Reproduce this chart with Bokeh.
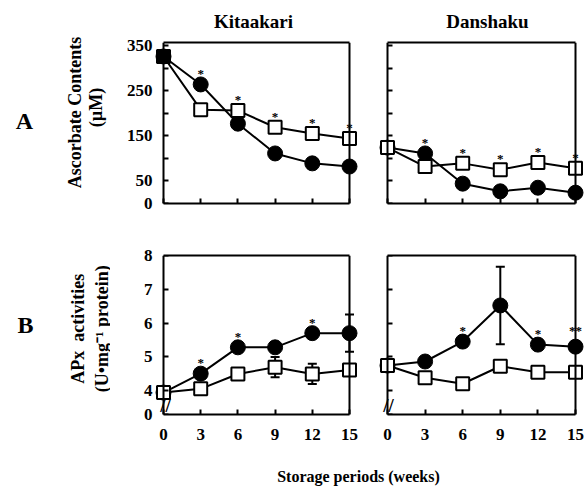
import math
from bokeh.plotting import figure
from bokeh.models import Range1d, FixedTicker, Label, ColumnDataSource, Whisker, TeeHead, LinearAxis
from bokeh.layouts import column, row
from bokeh.embed import file_html
from bokeh.resources import INLINE
from bokeh.core.properties import value

# ---------------- data ----------------
weeks = [0, 3, 6, 9, 12, 15]
x_ticks = [0, 3, 6, 9, 12, 15]
x_tick_labels = ["0", "3", "6", "9", "12", "15"]

# Panel A: ascorbate contents (uM); circles = filled series, squares = open series
asc_kit_circle = [326, 264, 177, 111, 89, 82]
asc_kit_square = [326, 208, 206, 169, 155, 144]
asc_kit_sig = ["", "*", "*", "*", "*", "*"]
asc_dan_circle = [124, 111, 44, 27, 35, 24]
asc_dan_square = [124, 82, 89, 75, 91, 78]
asc_dan_sig = ["", "*", "*", "*", "*", "*"]
asc_ticks = [0, 50, 100, 150, 200, 250, 300, 350]
asc_tick_labels = ["0", "50", "", "150", "", "250", "", "350"]

# Panel B: APx activities (U mg-1 protein)
apx_kit_circle = [3.94, 4.5, 5.28, 5.28, 5.7, 5.7]
apx_kit_circle_err = [0, 0, 0, 0, 0, 0.55]
apx_kit_square = [3.94, 4.05, 4.49, 4.69, 4.49, 4.61]
apx_kit_square_err = [0, 0, 0, 0.3, 0.3, 0.1]
apx_kit_sig = ["", "*", "*", "", "*", ""]
apx_dan_circle = [4.74, 4.86, 5.45, 6.52, 5.36, 5.3]
apx_dan_circle_err = [0, 0, 0, 1.15, 0, 0.15]
apx_dan_square = [4.74, 4.38, 4.2, 4.72, 4.54, 4.54]
apx_dan_square_err = [0, 0.15, 0.15, 0, 0, 0]
apx_dan_sig = ["", "", "*", "", "*", "**"]
apx_ticks = [3.29, 4, 5, 6, 7, 8]          # lowest tick sits below the axis break
apx_tick_labels = ["0", "4", "5", "6", "7", "8"]

FONT = "Liberation Serif"
X0, X1 = 0, 15
PAD_PX = 9


def base_axis(ax):
    ax.axis_line_width = 2
    ax.axis_line_color = "black"
    ax.major_tick_line_width = 2
    ax.major_tick_line_color = "black"
    ax.minor_tick_line_color = None
    ax.major_label_text_font = FONT
    ax.major_label_text_font_style = "bold"
    ax.major_label_text_font_size = "17px"
    ax.major_label_text_color = "black"


def text_fig(w, h):
    f = figure(width=w, height=h, output_backend="svg", toolbar_location=None,
               x_range=Range1d(0, w), y_range=Range1d(0, h),
               min_border_left=0, min_border_right=0, min_border_top=0, min_border_bottom=0)
    f.axis.visible = False
    f.grid.visible = False
    f.outline_line_color = None
    return f


def panel(geom, y_lo, y_hi, yticks, ylabels, show_y, show_x,
          circ, circ_err, sq, sq_err, sig, first_square_fill="white"):
    frame_w = geom["w"] - geom["bl"] - geom["br"]
    pad = (X1 - X0) * PAD_PX / (frame_w - 2 * PAD_PX)
    p = figure(width=geom["w"], height=geom["h"], output_backend="svg",
               toolbar_location=None, x_range=Range1d(X0 - pad, X1 + pad),
               y_range=Range1d(y_lo, y_hi),
               min_border_left=geom["bl"], min_border_right=geom["br"],
               min_border_top=geom["bt"], min_border_bottom=geom["bb"])
    p.grid.visible = False
    p.outline_line_color = None
    p.background_fill_color = "white"
    p.border_fill_color = "white"

    # bottom axis: line from 0 to 15, inward ticks, labels
    xa = p.xaxis[0]
    base_axis(xa)
    xa.bounds = (X0, X1)
    xa.major_tick_in = 5
    xa.major_tick_out = 0
    xa.ticker = FixedTicker(ticks=x_ticks)
    xa.major_label_overrides = {t: l for t, l in zip(x_ticks, x_tick_labels)}
    xa.major_label_standoff = 14
    if not show_x:
        xa.major_label_text_color = None

    # left axis: tick labels only
    ya = p.yaxis[0]
    if show_y:
        base_axis(ya)
        ya.axis_line_color = None
        ya.major_tick_line_color = None
        ya.major_tick_in = 0
        ya.major_tick_out = 0
        ya.ticker = FixedTicker(ticks=yticks)
        ya.major_label_overrides = {t: l for t, l in zip(yticks, ylabels)}
        ya.major_label_standoff = 2
    else:
        ya.visible = False

    # vertical line at x = 0 with inward ticks (no labels)
    ya0 = LinearAxis(ticker=FixedTicker(ticks=yticks), fixed_location=X0)
    base_axis(ya0)
    ya0.major_tick_in = 0
    ya0.major_tick_out = 5
    ya0.major_label_standoff = 0
    ya0.major_label_overrides = {t: "" for t in yticks}
    ya0.major_label_text_color = None
    p.add_layout(ya0, "right")

    # closing box sides
    yr = LinearAxis(ticker=FixedTicker(ticks=[]), fixed_location=X1)
    base_axis(yr)
    yr.major_tick_in = 0
    yr.major_tick_out = 0
    yr.major_label_standoff = 0
    p.add_layout(yr, "right")
    top = LinearAxis(ticker=FixedTicker(ticks=[]), bounds=(X0, X1))
    base_axis(top)
    top.major_tick_in = 0
    top.major_tick_out = 0
    top.major_label_standoff = 0
    p.add_layout(top, "above")

    # error bars
    for vals, errs in ((circ, circ_err), (sq, sq_err)):
        xs = [w for w, e in zip(weeks, errs) if e > 0]
        if xs:
            src = ColumnDataSource(dict(
                x=xs,
                upper=[v + e for v, e in zip(vals, errs) if e > 0],
                lower=[v - e for v, e in zip(vals, errs) if e > 0]))
            wk = Whisker(source=src, base="x", upper="upper", lower="lower",
                         dimension="height", line_width=2, line_color="black",
                         upper_head=TeeHead(size=9, line_width=2),
                         lower_head=TeeHead(size=9, line_width=2))
            p.add_layout(wk)

    p.line(weeks, circ, line_color="black", line_width=2)
    p.line(weeks, sq, line_color="black", line_width=2)
    p.scatter(weeks, circ, marker="circle", size=15, fill_color="black", line_color="black")
    sq_fill = [first_square_fill] + ["white"] * (len(weeks) - 1)
    p.scatter(weeks, sq, marker="square", size=13, fill_color=sq_fill,
              line_color="black", line_width=2)

    # significance marks above the highest marker / error bar
    tops = [max(c + ce, s + se) for c, ce, s, se in zip(circ, circ_err, sq, sq_err)]
    sx = [w for w, s in zip(weeks, sig) if s]
    sy = [t for t, s in zip(tops, sig) if s]
    st = [s for s in sig if s]
    p.text(sx, sy, text=st, y_offset=-11, text_align="center", text_baseline="middle",
           text_font=value(FONT), text_font_style="bold", text_font_size="13px",
           text_color="black")
    return p


def put(p, geom, text, wx, wy, size, angle=0.0):
    # text glyph in a text-only figure whose data units are pixels
    p.text([wx - geom["x0"]], [geom["h"] - (wy - geom["y0"])], text=[text], angle=angle,
           text_align="center", text_baseline="middle",
           text_font=value(FONT), text_font_style="bold", text_font_size=f"{size}px",
           text_color="black")


def put_label(p, geom, text, wx, wy, size):
    fl = geom["x0"] + geom["bl"]
    fb = geom["y0"] + geom["h"] - geom["bb"]
    p.add_layout(Label(x=wx - fl, y=fb - wy, x_units="screen", y_units="screen",
                       text=text, text_align="center", text_baseline="middle",
                       text_font=FONT, text_font_style="bold", text_font_size=f"{size}px",
                       text_color="black"))


gAL = dict(x0=0, y0=0, w=110, h=230)
gT = dict(x0=110, y0=0, w=476, h=34)
g1 = dict(x0=110, y0=34, w=258, h=196, bl=44, br=10, bt=8, bb=27)
g2 = dict(x0=368, y0=34, w=218, h=196, bl=10, br=2, bt=8, bb=27)
gBL = dict(x0=0, y0=230, w=110, h=230)
g3 = dict(x0=110, y0=230, w=258, h=230, bl=44, br=10, bt=25, bb=46)
g4 = dict(x0=368, y0=230, w=218, h=230, bl=10, br=2, bt=25, bb=46)
g5 = dict(x0=0, y0=460, w=586, h=29)

f1 = panel(g1, 0, 357, asc_ticks, asc_tick_labels, True, False,
           asc_kit_circle, [0] * 6, asc_kit_square, [0] * 6, asc_kit_sig, "black")
f2 = panel(g2, 0, 357, asc_ticks, asc_tick_labels, False, False,
           asc_dan_circle, [0] * 6, asc_dan_square, [0] * 6, asc_dan_sig)
f3 = panel(g3, 3.29, 8, apx_ticks, apx_tick_labels, True, True,
           apx_kit_circle, apx_kit_circle_err, apx_kit_square, apx_kit_square_err, apx_kit_sig)
f4 = panel(g4, 3.29, 8, apx_ticks, apx_tick_labels, False, True,
           apx_dan_circle, apx_dan_circle_err, apx_dan_square, apx_dan_square_err, apx_dan_sig)

fT = text_fig(gT["w"], gT["h"])
fAL = text_fig(gAL["w"], gAL["h"])
fBL = text_fig(gBL["w"], gBL["h"])
f5 = text_fig(g5["w"], g5["h"])

put(fT, gT, "Kitaakari", 253, 21, 19)
put(fT, gT, "Danshaku", 487, 21, 19)
put(fAL, gAL, "A", 24, 120, 24)
put(fBL, gBL, "B", 25, 330, 24)
put(fAL, gAL, "Ascorbate Contents", 74, 112, 18, math.pi / 2)
put(fAL, gAL, "(\u00b5M)", 95, 107, 18, math.pi / 2)
put(fBL, gBL, "APx\u00a0 activities", 77, 336, 18, math.pi / 2)
put(fBL, gBL, "(U\u2022mg\u207b\u00b9 protein)", 101, 336, 18, math.pi / 2)
put_label(f3, g3, "//", 165, 405, 19)
put_label(f4, g4, "//", 388, 405, 19)
put(f5, g5, "Storage periods (weeks)", 358, 476, 16)

layout = column(row(fAL, column(fT, row(f1, f2))), row(fBL, f3, f4), f5)
open("out.html", "w").write(file_html(layout, INLINE))
